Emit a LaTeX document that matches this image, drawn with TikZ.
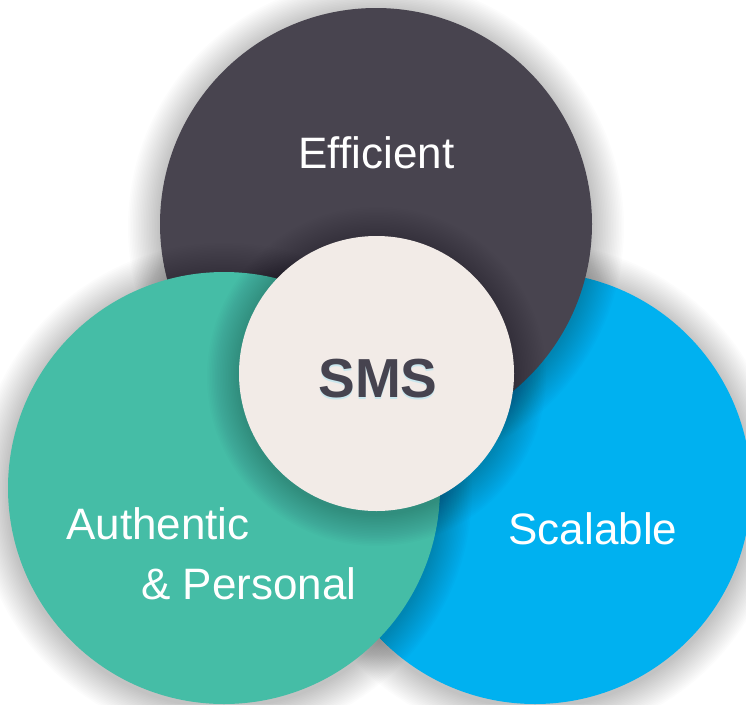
\documentclass[tikz,border=0pt]{standalone}
\usepackage{fontspec}
\setmainfont{Liberation Sans}
\definecolor{darkc}{HTML}{48444F}
\definecolor{greenc}{HTML}{45BDA6}
\definecolor{bluec}{HTML}{00B1F0}
\definecolor{smsc}{HTML}{F2EBE7}
\definecolor{smstext}{HTML}{46434F}
\definecolor{glowc}{HTML}{B8E4F0}
\tikzset{
  disc/.style={circle, inner sep=0pt, draw=none, minimum size=#1},
  label43/.style={text=white, inner sep=0pt, font=\fontsize{44}{50}\selectfont},
}
\newcommand{\halo}[3]{%
  \foreach \k in {1,...,20}{%
    \fill[black, opacity=0.011] (#1,#2+3) circle ({#3+\k*1.6});
  }%
}
\begin{document}
\begin{tikzpicture}[x=1pt,y=-1pt]
\useasboundingbox (0,0) rectangle (746,704);
\fill[white] (0,0) rectangle (746,704);
% blue (bottom)
\halo{535}{488}{216}
\node[disc=432pt, fill=bluec] (scal) at (535,488) {};
% dark
\halo{376}{224}{216}
\node[disc=432pt, fill=darkc] (eff) at (376,224) {};
% green
\halo{224}{488}{216}
\node[disc=432pt, fill=greenc] (auth) at (224,488) {};
% SMS
\halo{376.5}{373.5}{137.5}
\node[disc=275pt, fill=smsc] (sms) at (376.5,373.5) {};
% texts
\node[label43, anchor=base] (teff) at (376.5,168) {Efficient};
\node[label43, anchor=base] (tscal) at (593,544) {Scalable};
\node[label43, anchor=base west] (tauth1) at (66,539) {Authentic};
\node[label43, anchor=base west] (tauth2) at (141,599.5) {\&~Personal};
\node[inner sep=0pt, anchor=base, text=glowc, opacity=0.7, font=\fontsize{55}{60}\selectfont\bfseries] (tglow) at (378,399) {SMS};
\node[inner sep=0pt, anchor=base, text=smstext, font=\fontsize{55}{60}\selectfont\bfseries] (tsms) at (378,397) {SMS};
\end{tikzpicture}
\end{document}
